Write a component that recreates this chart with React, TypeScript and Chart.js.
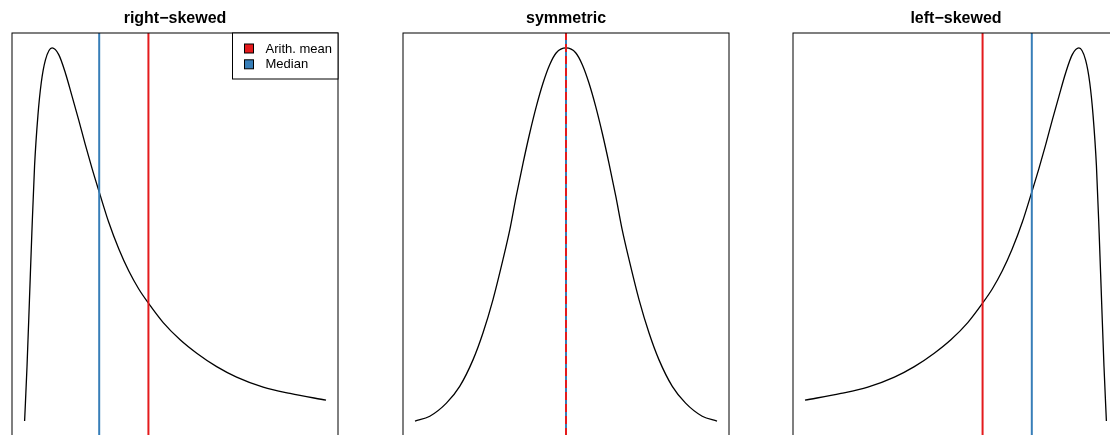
import React, { useEffect, useRef } from "react";
import { Chart, registerables } from "chart.js";

Chart.register(...registerables);

const titles = ["right\u2212skewed", "symmetric", "left\u2212skewed"];
const legendLabels = ["Arith. mean", "Median"];
const meanColor = "#E41A1C";
const medianColor = "#377EB8";

const rightX = [0.02, 0.10, 0.18, 0.26, 0.35, 0.46, 0.57, 0.71, 0.93, 1.15, 1.37, 1.59, 1.81, 2.03, 2.25, 2.49, 2.80, 3.14, 3.47, 3.80, 4.12, 4.61, 5.17, 5.72, 6.38, 7.04, 7.92, 8.81, 10.0];
const rightY = [0.000, 0.147, 0.324, 0.504, 0.684, 0.818, 0.906, 0.968, 1.000, 0.982, 0.933, 0.871, 0.807, 0.741, 0.678, 0.614, 0.534, 0.461, 0.402, 0.354, 0.316, 0.264, 0.218, 0.182, 0.146, 0.118, 0.091, 0.074, 0.056];

const symX = [0.0, 0.49, 1.04, 1.48, 1.92, 2.25, 2.58, 2.91, 3.14, 3.35, 3.58, 3.80, 4.02, 4.24, 4.46, 4.68, 5.0, 5.32, 5.54, 5.76, 5.98, 6.20, 6.42, 6.65, 6.86, 7.09, 7.42, 7.75, 8.08, 8.52, 8.96, 9.51, 10.0];
const symY = [0.000, 0.013, 0.048, 0.093, 0.164, 0.236, 0.325, 0.432, 0.513, 0.602, 0.692, 0.772, 0.844, 0.906, 0.955, 0.987, 1.000, 0.987, 0.955, 0.906, 0.844, 0.772, 0.692, 0.602, 0.513, 0.432, 0.325, 0.236, 0.164, 0.093, 0.048, 0.013, 0.000];

const leftX = [0.0, 1.19, 2.08, 2.96, 3.62, 4.28, 4.83, 5.39, 5.88, 6.20, 6.53, 6.86, 7.20, 7.51, 7.75, 7.97, 8.19, 8.41, 8.63, 8.85, 9.07, 9.29, 9.43, 9.54, 9.65, 9.74, 9.82, 9.90, 9.98];
const leftY = [0.056, 0.074, 0.091, 0.118, 0.146, 0.182, 0.218, 0.264, 0.316, 0.354, 0.402, 0.461, 0.534, 0.614, 0.678, 0.741, 0.807, 0.871, 0.933, 0.982, 1.000, 0.968, 0.906, 0.818, 0.684, 0.504, 0.324, 0.147, 0.000];

const curvesX = [rightX, symX, leftX];
const curvesY = [rightY, symY, leftY];
const means = [4.12, 5.0, 5.88];
const medians = [2.49, 5.0, 7.51];

const X_MIN = -0.3974;
const X_MAX = 10.3974;
const Y_MIN = -0.04;
const Y_MAX = 1.04;

const CANVAS_W = 390;
const CANVAS_H = 440;
const canvasLefts = [0, 390, 780];
const areaLefts = [12, 403, 793];
const AREA_W = 326;

const FONT = '"Liberation Sans", Arial, Helvetica, sans-serif';

function Panel({ idx }: { idx: number }) {
  const ref = useRef<HTMLCanvasElement | null>(null);
  useEffect(() => {
    const canvas = ref.current;
    if (!canvas) return;
    const padLeft = areaLefts[idx] - canvasLefts[idx];
    const padRight = CANVAS_W - padLeft - AREA_W;
    const curve = curvesX[idx].map((x, i) => ({ x, y: curvesY[idx][i] }));
    const meanLine = [
      { x: means[idx], y: Y_MIN },
      { x: means[idx], y: Y_MAX },
    ];
    const medianLine = [
      { x: medians[idx], y: Y_MIN },
      { x: medians[idx], y: Y_MAX },
    ];
    const dashedMean = idx === 1;

    const decor = {
      id: "decor" + idx,
      afterDraw(chart: any) {
        const ctx = chart.ctx;
        const a = chart.chartArea;
        ctx.save();
        ctx.strokeStyle = "#000";
        ctx.lineWidth = 1;
        ctx.strokeRect(a.left, a.top, a.right - a.left, a.bottom - a.top);
        ctx.fillStyle = "#000";
        ctx.font = "bold 16px " + FONT;
        ctx.textAlign = "center";
        ctx.textBaseline = "alphabetic";
        ctx.fillText(titles[idx], (a.left + a.right) / 2, 22.5);
        if (idx === 0) {
          const lw = 106;
          const lh = 46;
          const lx = a.right - lw;
          const ly = a.top;
          ctx.fillStyle = "#fff";
          ctx.fillRect(lx, ly, lw, lh);
          ctx.strokeStyle = "#000";
          ctx.lineWidth = 1;
          ctx.strokeRect(lx + 0.5, ly, lw - 0.5, lh);
          const cols = [meanColor, medianColor];
          const rowY = [ly + 15.5, ly + 31.3];
          ctx.font = "13px " + FONT;
          ctx.textAlign = "left";
          ctx.textBaseline = "middle";
          for (let i = 0; i < 2; i++) {
            ctx.fillStyle = cols[i];
            ctx.fillRect(lx + 12.5, rowY[i] - 4.5, 9, 9);
            ctx.strokeStyle = "#000";
            ctx.strokeRect(lx + 12.5, rowY[i] - 4.5, 9, 9);
            ctx.fillStyle = "#000";
            ctx.fillText(legendLabels[i], lx + 33.5, rowY[i] + 0.5);
          }
        }
        ctx.restore();
      },
    };

    const chart = new Chart(canvas, {
      type: "line",
      data: {
        datasets: [
          {
            label: legendLabels[0],
            data: meanLine,
            borderColor: meanColor,
            borderWidth: 2,
            borderDash: dashedMean ? [8, 4] : [],
            pointRadius: 0,
            fill: false,
          },
          {
            label: legendLabels[1],
            data: medianLine,
            borderColor: medianColor,
            borderWidth: 2,
            pointRadius: 0,
            fill: false,
          },
          {
            label: "density",
            data: curve,
            borderColor: "#000",
            borderWidth: 1.3,
            pointRadius: 0,
            fill: false,
            cubicInterpolationMode: "monotone",
          },
        ],
      },
      options: {
        animation: false,
        responsive: false,
        devicePixelRatio: 1,
        layout: { padding: { left: padLeft, right: padRight, top: 33, bottom: CANVAS_H - 436 } },
        plugins: { legend: { display: false }, tooltip: { enabled: false }, title: { display: false } },
        scales: {
          x: { type: "linear", display: false, min: X_MIN, max: X_MAX },
          y: { type: "linear", display: false, min: Y_MIN, max: Y_MAX },
        },
      },
      plugins: [decor],
    } as any);
    return () => chart.destroy();
  }, [idx]);
  return (
    <canvas
      ref={ref}
      width={CANVAS_W}
      height={CANVAS_H}
      style={{ position: "absolute", left: canvasLefts[idx], top: 0, width: CANVAS_W, height: CANVAS_H, display: "block" }}
    />
  );
}

export default function App() {
  return (
    <div
      style={{
        position: "fixed",
        left: 0,
        top: 0,
        width: 1110,
        height: 435,
        overflow: "hidden",
        background: "#fff",
      }}
    >
      {[0, 1, 2].map((i) => (
        <Panel key={i} idx={i} />
      ))}
    </div>
  );
}
